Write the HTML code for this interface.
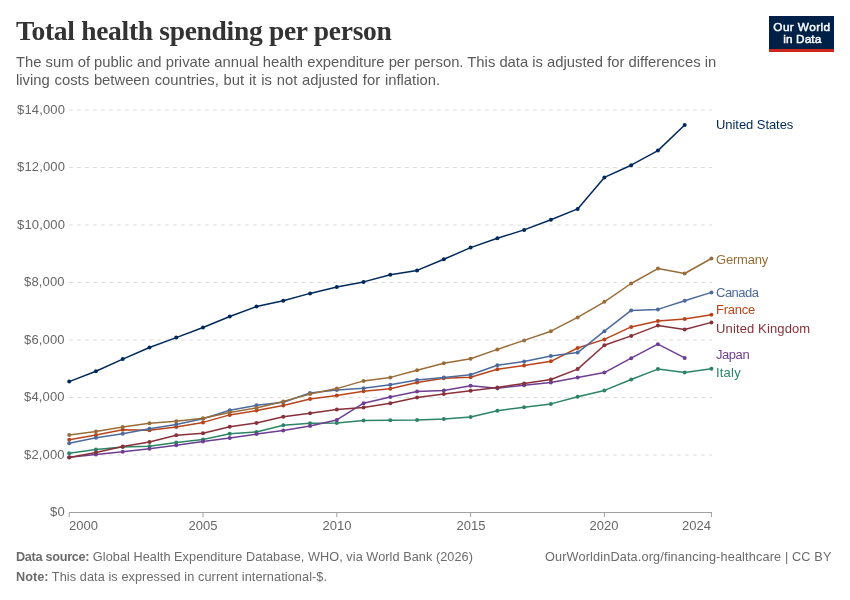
<!DOCTYPE html>
<html><head><meta charset="utf-8"><style>
html,body{margin:0;padding:0;background:#fff;}
body{width:850px;height:600px;position:relative;overflow:hidden;font-family:"Liberation Sans",sans-serif;}
.title{position:absolute;left:16px;top:15px;font-family:"Liberation Serif",serif;font-weight:bold;font-size:27.5px;color:#333;white-space:nowrap;letter-spacing:-0.3px;}
.sub{position:absolute;left:16px;top:52.5px;font-size:14.8px;line-height:18px;color:#5a5a5a;white-space:nowrap;}
.logo{position:absolute;left:769px;top:16px;width:65px;height:36px;background:#002147;}
.logo .bar{position:absolute;left:0;bottom:0;width:65px;height:3px;background:#ce261e;}
.logo .t{position:absolute;left:0;width:65px;text-align:center;color:#fff;font-weight:normal;-webkit-text-stroke:0.45px #fff;font-size:11.8px;line-height:12px;letter-spacing:-0.1px;}
.yl{position:absolute;right:785px;letter-spacing:0.15px;font-size:13px;line-height:15px;color:#666;white-space:nowrap;}
.xl{position:absolute;top:518px;font-size:13px;line-height:15px;color:#666;white-space:nowrap;}
.sl{position:absolute;left:716px;font-size:13px;line-height:15px;white-space:nowrap;}
.foot{position:absolute;left:16px;font-size:12.7px;line-height:15px;color:#6b6b6b;white-space:nowrap;}
.foot b{color:#6b6b6b;}
.footr{position:absolute;right:18.2px;top:550px;font-size:12.7px;letter-spacing:0.15px;line-height:15px;color:#6b6b6b;white-space:nowrap;}
svg{position:absolute;left:0;top:0;}
.yl,.xl,.sl,.foot,.footr,.title,.sub,.logo{will-change:transform;}
</style></head><body>
<div class="title">Total health spending per person</div>
<div class="sub">The sum of public and private annual health expenditure per person. This data is adjusted for differences in<br><span style="word-spacing:0.7px">living costs between countries, but it is not adjusted for inflation.</span></div>
<div class="logo"><div class="t" style="top:5px;left:0.4px;letter-spacing:0.4px">Our World</div><div class="t" style="top:16.6px;left:0.8px;letter-spacing:0.1px">in Data</div><div class="bar"></div></div>
<svg width="850" height="600" viewBox="0 0 850 600">
<line x1="69" y1="455.00" x2="712" y2="455.00" stroke="#ddd" stroke-width="1" stroke-dasharray="4,4"/>
<line x1="69" y1="397.50" x2="712" y2="397.50" stroke="#ddd" stroke-width="1" stroke-dasharray="4,4"/>
<line x1="69" y1="340.00" x2="712" y2="340.00" stroke="#ddd" stroke-width="1" stroke-dasharray="4,4"/>
<line x1="69" y1="282.50" x2="712" y2="282.50" stroke="#ddd" stroke-width="1" stroke-dasharray="4,4"/>
<line x1="69" y1="225.00" x2="712" y2="225.00" stroke="#ddd" stroke-width="1" stroke-dasharray="4,4"/>
<line x1="69" y1="167.50" x2="712" y2="167.50" stroke="#ddd" stroke-width="1" stroke-dasharray="4,4"/>
<line x1="69" y1="110.00" x2="712" y2="110.00" stroke="#ddd" stroke-width="1" stroke-dasharray="4,4"/>
<line x1="69" y1="512.5" x2="712" y2="512.5" stroke="#a1a1a1" stroke-width="1"/>
<line x1="69.20" y1="512.5" x2="69.20" y2="517.0" stroke="#a1a1a1" stroke-width="1"/>
<line x1="203.00" y1="512.5" x2="203.00" y2="517.0" stroke="#a1a1a1" stroke-width="1"/>
<line x1="336.80" y1="512.5" x2="336.80" y2="517.0" stroke="#a1a1a1" stroke-width="1"/>
<line x1="470.60" y1="512.5" x2="470.60" y2="517.0" stroke="#a1a1a1" stroke-width="1"/>
<line x1="604.40" y1="512.5" x2="604.40" y2="517.0" stroke="#a1a1a1" stroke-width="1"/>
<line x1="711.44" y1="512.5" x2="711.44" y2="517.0" stroke="#a1a1a1" stroke-width="1"/>
<polyline points="69.20,453.20 95.96,449.50 122.72,447.10 149.48,446.20 176.24,442.60 203.00,439.60 229.76,433.70 256.52,432.00 283.28,425.30 310.04,423.20 336.80,423.00 363.56,420.60 390.32,420.30 417.08,420.10 443.84,418.90 470.60,417.10 497.36,410.70 524.12,407.30 550.88,403.90 577.64,396.80 604.40,390.40 631.16,379.50 657.92,369.10 684.68,372.40 711.44,368.80" fill="none" stroke="#2C8465" stroke-width="1.5" stroke-linejoin="round"/>
<circle cx="69.20" cy="453.20" r="2" fill="#2C8465"/>
<circle cx="95.96" cy="449.50" r="2" fill="#2C8465"/>
<circle cx="122.72" cy="447.10" r="2" fill="#2C8465"/>
<circle cx="149.48" cy="446.20" r="2" fill="#2C8465"/>
<circle cx="176.24" cy="442.60" r="2" fill="#2C8465"/>
<circle cx="203.00" cy="439.60" r="2" fill="#2C8465"/>
<circle cx="229.76" cy="433.70" r="2" fill="#2C8465"/>
<circle cx="256.52" cy="432.00" r="2" fill="#2C8465"/>
<circle cx="283.28" cy="425.30" r="2" fill="#2C8465"/>
<circle cx="310.04" cy="423.20" r="2" fill="#2C8465"/>
<circle cx="336.80" cy="423.00" r="2" fill="#2C8465"/>
<circle cx="363.56" cy="420.60" r="2" fill="#2C8465"/>
<circle cx="390.32" cy="420.30" r="2" fill="#2C8465"/>
<circle cx="417.08" cy="420.10" r="2" fill="#2C8465"/>
<circle cx="443.84" cy="418.90" r="2" fill="#2C8465"/>
<circle cx="470.60" cy="417.10" r="2" fill="#2C8465"/>
<circle cx="497.36" cy="410.70" r="2" fill="#2C8465"/>
<circle cx="524.12" cy="407.30" r="2" fill="#2C8465"/>
<circle cx="550.88" cy="403.90" r="2" fill="#2C8465"/>
<circle cx="577.64" cy="396.80" r="2" fill="#2C8465"/>
<circle cx="604.40" cy="390.40" r="2" fill="#2C8465"/>
<circle cx="631.16" cy="379.50" r="2" fill="#2C8465"/>
<circle cx="657.92" cy="369.10" r="2" fill="#2C8465"/>
<circle cx="684.68" cy="372.40" r="2" fill="#2C8465"/>
<circle cx="711.44" cy="368.80" r="2" fill="#2C8465"/>
<polyline points="69.20,457.20 95.96,454.40 122.72,451.80 149.48,448.80 176.24,445.30 203.00,441.40 229.76,438.10 256.52,434.10 283.28,430.40 310.04,426.10 336.80,419.90 363.56,403.20 390.32,397.10 417.08,391.40 443.84,390.40 470.60,385.70 497.36,388.20 524.12,385.30 550.88,382.40 577.64,377.60 604.40,372.60 631.16,358.20 657.92,344.20 684.68,357.90" fill="none" stroke="#6D3E91" stroke-width="1.5" stroke-linejoin="round"/>
<circle cx="69.20" cy="457.20" r="2" fill="#6D3E91"/>
<circle cx="95.96" cy="454.40" r="2" fill="#6D3E91"/>
<circle cx="122.72" cy="451.80" r="2" fill="#6D3E91"/>
<circle cx="149.48" cy="448.80" r="2" fill="#6D3E91"/>
<circle cx="176.24" cy="445.30" r="2" fill="#6D3E91"/>
<circle cx="203.00" cy="441.40" r="2" fill="#6D3E91"/>
<circle cx="229.76" cy="438.10" r="2" fill="#6D3E91"/>
<circle cx="256.52" cy="434.10" r="2" fill="#6D3E91"/>
<circle cx="283.28" cy="430.40" r="2" fill="#6D3E91"/>
<circle cx="310.04" cy="426.10" r="2" fill="#6D3E91"/>
<circle cx="336.80" cy="419.90" r="2" fill="#6D3E91"/>
<circle cx="363.56" cy="403.20" r="2" fill="#6D3E91"/>
<circle cx="390.32" cy="397.10" r="2" fill="#6D3E91"/>
<circle cx="417.08" cy="391.40" r="2" fill="#6D3E91"/>
<circle cx="443.84" cy="390.40" r="2" fill="#6D3E91"/>
<circle cx="470.60" cy="385.70" r="2" fill="#6D3E91"/>
<circle cx="497.36" cy="388.20" r="2" fill="#6D3E91"/>
<circle cx="524.12" cy="385.30" r="2" fill="#6D3E91"/>
<circle cx="550.88" cy="382.40" r="2" fill="#6D3E91"/>
<circle cx="577.64" cy="377.60" r="2" fill="#6D3E91"/>
<circle cx="604.40" cy="372.60" r="2" fill="#6D3E91"/>
<circle cx="631.16" cy="358.20" r="2" fill="#6D3E91"/>
<circle cx="657.92" cy="344.20" r="2" fill="#6D3E91"/>
<circle cx="684.68" cy="357.90" r="2" fill="#6D3E91"/>
<polyline points="69.20,457.60 95.96,452.60 122.72,446.40 149.48,441.90 176.24,435.30 203.00,433.30 229.76,426.80 256.52,422.90 283.28,416.80 310.04,413.20 336.80,409.60 363.56,407.50 390.32,403.20 417.08,397.40 443.84,393.90 470.60,390.80 497.36,387.40 524.12,383.50 550.88,379.50 577.64,369.10 604.40,345.30 631.16,335.90 657.92,325.60 684.68,329.50 711.44,322.40" fill="none" stroke="#883039" stroke-width="1.5" stroke-linejoin="round"/>
<circle cx="69.20" cy="457.60" r="2" fill="#883039"/>
<circle cx="95.96" cy="452.60" r="2" fill="#883039"/>
<circle cx="122.72" cy="446.40" r="2" fill="#883039"/>
<circle cx="149.48" cy="441.90" r="2" fill="#883039"/>
<circle cx="176.24" cy="435.30" r="2" fill="#883039"/>
<circle cx="203.00" cy="433.30" r="2" fill="#883039"/>
<circle cx="229.76" cy="426.80" r="2" fill="#883039"/>
<circle cx="256.52" cy="422.90" r="2" fill="#883039"/>
<circle cx="283.28" cy="416.80" r="2" fill="#883039"/>
<circle cx="310.04" cy="413.20" r="2" fill="#883039"/>
<circle cx="336.80" cy="409.60" r="2" fill="#883039"/>
<circle cx="363.56" cy="407.50" r="2" fill="#883039"/>
<circle cx="390.32" cy="403.20" r="2" fill="#883039"/>
<circle cx="417.08" cy="397.40" r="2" fill="#883039"/>
<circle cx="443.84" cy="393.90" r="2" fill="#883039"/>
<circle cx="470.60" cy="390.80" r="2" fill="#883039"/>
<circle cx="497.36" cy="387.40" r="2" fill="#883039"/>
<circle cx="524.12" cy="383.50" r="2" fill="#883039"/>
<circle cx="550.88" cy="379.50" r="2" fill="#883039"/>
<circle cx="577.64" cy="369.10" r="2" fill="#883039"/>
<circle cx="604.40" cy="345.30" r="2" fill="#883039"/>
<circle cx="631.16" cy="335.90" r="2" fill="#883039"/>
<circle cx="657.92" cy="325.60" r="2" fill="#883039"/>
<circle cx="684.68" cy="329.50" r="2" fill="#883039"/>
<circle cx="711.44" cy="322.40" r="2" fill="#883039"/>
<polyline points="69.20,439.70 95.96,435.00 122.72,429.70 149.48,430.20 176.24,427.10 203.00,422.40 229.76,414.90 256.52,410.60 283.28,405.50 310.04,399.10 336.80,395.50 363.56,391.20 390.32,388.70 417.08,382.40 443.84,378.20 470.60,377.30 497.36,369.20 524.12,365.50 550.88,361.30 577.64,348.00 604.40,339.40 631.16,326.90 657.92,321.10 684.68,319.10 711.44,314.70" fill="none" stroke="#B8441C" stroke-width="1.5" stroke-linejoin="round"/>
<circle cx="69.20" cy="439.70" r="2" fill="#B8441C"/>
<circle cx="95.96" cy="435.00" r="2" fill="#B8441C"/>
<circle cx="122.72" cy="429.70" r="2" fill="#B8441C"/>
<circle cx="149.48" cy="430.20" r="2" fill="#B8441C"/>
<circle cx="176.24" cy="427.10" r="2" fill="#B8441C"/>
<circle cx="203.00" cy="422.40" r="2" fill="#B8441C"/>
<circle cx="229.76" cy="414.90" r="2" fill="#B8441C"/>
<circle cx="256.52" cy="410.60" r="2" fill="#B8441C"/>
<circle cx="283.28" cy="405.50" r="2" fill="#B8441C"/>
<circle cx="310.04" cy="399.10" r="2" fill="#B8441C"/>
<circle cx="336.80" cy="395.50" r="2" fill="#B8441C"/>
<circle cx="363.56" cy="391.20" r="2" fill="#B8441C"/>
<circle cx="390.32" cy="388.70" r="2" fill="#B8441C"/>
<circle cx="417.08" cy="382.40" r="2" fill="#B8441C"/>
<circle cx="443.84" cy="378.20" r="2" fill="#B8441C"/>
<circle cx="470.60" cy="377.30" r="2" fill="#B8441C"/>
<circle cx="497.36" cy="369.20" r="2" fill="#B8441C"/>
<circle cx="524.12" cy="365.50" r="2" fill="#B8441C"/>
<circle cx="550.88" cy="361.30" r="2" fill="#B8441C"/>
<circle cx="577.64" cy="348.00" r="2" fill="#B8441C"/>
<circle cx="604.40" cy="339.40" r="2" fill="#B8441C"/>
<circle cx="631.16" cy="326.90" r="2" fill="#B8441C"/>
<circle cx="657.92" cy="321.10" r="2" fill="#B8441C"/>
<circle cx="684.68" cy="319.10" r="2" fill="#B8441C"/>
<circle cx="711.44" cy="314.70" r="2" fill="#B8441C"/>
<polyline points="69.20,443.20 95.96,437.70 122.72,433.80 149.48,428.70 176.24,424.50 203.00,418.80 229.76,410.30 256.52,405.30 283.28,402.20 310.04,393.00 336.80,389.90 363.56,388.20 390.32,384.70 417.08,380.00 443.84,377.60 470.60,374.80 497.36,365.30 524.12,361.40 550.88,356.10 577.64,352.60 604.40,331.20 631.16,310.40 657.92,309.40 684.68,300.70 711.44,292.40" fill="none" stroke="#4C6A9C" stroke-width="1.5" stroke-linejoin="round"/>
<circle cx="69.20" cy="443.20" r="2" fill="#4C6A9C"/>
<circle cx="95.96" cy="437.70" r="2" fill="#4C6A9C"/>
<circle cx="122.72" cy="433.80" r="2" fill="#4C6A9C"/>
<circle cx="149.48" cy="428.70" r="2" fill="#4C6A9C"/>
<circle cx="176.24" cy="424.50" r="2" fill="#4C6A9C"/>
<circle cx="203.00" cy="418.80" r="2" fill="#4C6A9C"/>
<circle cx="229.76" cy="410.30" r="2" fill="#4C6A9C"/>
<circle cx="256.52" cy="405.30" r="2" fill="#4C6A9C"/>
<circle cx="283.28" cy="402.20" r="2" fill="#4C6A9C"/>
<circle cx="310.04" cy="393.00" r="2" fill="#4C6A9C"/>
<circle cx="336.80" cy="389.90" r="2" fill="#4C6A9C"/>
<circle cx="363.56" cy="388.20" r="2" fill="#4C6A9C"/>
<circle cx="390.32" cy="384.70" r="2" fill="#4C6A9C"/>
<circle cx="417.08" cy="380.00" r="2" fill="#4C6A9C"/>
<circle cx="443.84" cy="377.60" r="2" fill="#4C6A9C"/>
<circle cx="470.60" cy="374.80" r="2" fill="#4C6A9C"/>
<circle cx="497.36" cy="365.30" r="2" fill="#4C6A9C"/>
<circle cx="524.12" cy="361.40" r="2" fill="#4C6A9C"/>
<circle cx="550.88" cy="356.10" r="2" fill="#4C6A9C"/>
<circle cx="577.64" cy="352.60" r="2" fill="#4C6A9C"/>
<circle cx="604.40" cy="331.20" r="2" fill="#4C6A9C"/>
<circle cx="631.16" cy="310.40" r="2" fill="#4C6A9C"/>
<circle cx="657.92" cy="309.40" r="2" fill="#4C6A9C"/>
<circle cx="684.68" cy="300.70" r="2" fill="#4C6A9C"/>
<circle cx="711.44" cy="292.40" r="2" fill="#4C6A9C"/>
<polyline points="69.20,435.00 95.96,431.50 122.72,427.00 149.48,423.20 176.24,421.20 203.00,418.20 229.76,412.50 256.52,407.90 283.28,401.40 310.04,394.10 336.80,388.60 363.56,380.90 390.32,377.40 417.08,370.20 443.84,363.30 470.60,358.80 497.36,349.40 524.12,340.40 550.88,331.20 577.64,317.40 604.40,301.80 631.16,283.50 657.92,268.60 684.68,273.50 711.44,258.50" fill="none" stroke="#996D39" stroke-width="1.5" stroke-linejoin="round"/>
<circle cx="69.20" cy="435.00" r="2" fill="#996D39"/>
<circle cx="95.96" cy="431.50" r="2" fill="#996D39"/>
<circle cx="122.72" cy="427.00" r="2" fill="#996D39"/>
<circle cx="149.48" cy="423.20" r="2" fill="#996D39"/>
<circle cx="176.24" cy="421.20" r="2" fill="#996D39"/>
<circle cx="203.00" cy="418.20" r="2" fill="#996D39"/>
<circle cx="229.76" cy="412.50" r="2" fill="#996D39"/>
<circle cx="256.52" cy="407.90" r="2" fill="#996D39"/>
<circle cx="283.28" cy="401.40" r="2" fill="#996D39"/>
<circle cx="310.04" cy="394.10" r="2" fill="#996D39"/>
<circle cx="336.80" cy="388.60" r="2" fill="#996D39"/>
<circle cx="363.56" cy="380.90" r="2" fill="#996D39"/>
<circle cx="390.32" cy="377.40" r="2" fill="#996D39"/>
<circle cx="417.08" cy="370.20" r="2" fill="#996D39"/>
<circle cx="443.84" cy="363.30" r="2" fill="#996D39"/>
<circle cx="470.60" cy="358.80" r="2" fill="#996D39"/>
<circle cx="497.36" cy="349.40" r="2" fill="#996D39"/>
<circle cx="524.12" cy="340.40" r="2" fill="#996D39"/>
<circle cx="550.88" cy="331.20" r="2" fill="#996D39"/>
<circle cx="577.64" cy="317.40" r="2" fill="#996D39"/>
<circle cx="604.40" cy="301.80" r="2" fill="#996D39"/>
<circle cx="631.16" cy="283.50" r="2" fill="#996D39"/>
<circle cx="657.92" cy="268.60" r="2" fill="#996D39"/>
<circle cx="684.68" cy="273.50" r="2" fill="#996D39"/>
<circle cx="711.44" cy="258.50" r="2" fill="#996D39"/>
<polyline points="69.20,381.60 95.96,371.30 122.72,359.10 149.48,347.50 176.24,337.60 203.00,327.50 229.76,316.50 256.52,306.60 283.28,300.70 310.04,293.40 336.80,287.10 363.56,281.90 390.32,274.80 417.08,270.40 443.84,259.30 470.60,247.60 497.36,238.30 524.12,229.90 550.88,219.70 577.64,208.90 604.40,177.40 631.16,165.20 657.92,150.60 684.68,125.00" fill="none" stroke="#00295B" stroke-width="1.5" stroke-linejoin="round"/>
<circle cx="69.20" cy="381.60" r="2" fill="#00295B"/>
<circle cx="95.96" cy="371.30" r="2" fill="#00295B"/>
<circle cx="122.72" cy="359.10" r="2" fill="#00295B"/>
<circle cx="149.48" cy="347.50" r="2" fill="#00295B"/>
<circle cx="176.24" cy="337.60" r="2" fill="#00295B"/>
<circle cx="203.00" cy="327.50" r="2" fill="#00295B"/>
<circle cx="229.76" cy="316.50" r="2" fill="#00295B"/>
<circle cx="256.52" cy="306.60" r="2" fill="#00295B"/>
<circle cx="283.28" cy="300.70" r="2" fill="#00295B"/>
<circle cx="310.04" cy="293.40" r="2" fill="#00295B"/>
<circle cx="336.80" cy="287.10" r="2" fill="#00295B"/>
<circle cx="363.56" cy="281.90" r="2" fill="#00295B"/>
<circle cx="390.32" cy="274.80" r="2" fill="#00295B"/>
<circle cx="417.08" cy="270.40" r="2" fill="#00295B"/>
<circle cx="443.84" cy="259.30" r="2" fill="#00295B"/>
<circle cx="470.60" cy="247.60" r="2" fill="#00295B"/>
<circle cx="497.36" cy="238.30" r="2" fill="#00295B"/>
<circle cx="524.12" cy="229.90" r="2" fill="#00295B"/>
<circle cx="550.88" cy="219.70" r="2" fill="#00295B"/>
<circle cx="577.64" cy="208.90" r="2" fill="#00295B"/>
<circle cx="604.40" cy="177.40" r="2" fill="#00295B"/>
<circle cx="631.16" cy="165.20" r="2" fill="#00295B"/>
<circle cx="657.92" cy="150.60" r="2" fill="#00295B"/>
<circle cx="684.68" cy="125.00" r="2" fill="#00295B"/>
</svg>
<div class="yl" style="top:504.0px">$0</div>
<div class="yl" style="top:446.5px">$2,000</div>
<div class="yl" style="top:389.0px">$4,000</div>
<div class="yl" style="top:331.5px">$6,000</div>
<div class="yl" style="top:274.0px">$8,000</div>
<div class="yl" style="top:216.5px">$10,000</div>
<div class="yl" style="top:159.0px">$12,000</div>
<div class="yl" style="top:101.5px">$14,000</div>
<div class="xl" style="left:68.7px">2000</div>
<div class="xl" style="left:183.0px;width:40px;text-align:center">2005</div>
<div class="xl" style="left:316.8px;width:40px;text-align:center">2010</div>
<div class="xl" style="left:450.6px;width:40px;text-align:center">2015</div>
<div class="xl" style="left:584.4px;width:40px;text-align:center">2020</div>
<div class="xl" style="left:682.4px;width:29px;text-align:right">2024</div>
<div class="sl" style="top:117.4px;color:#00295B;letter-spacing:-0.06px">United States</div>
<div class="sl" style="top:251.5px;color:#996D39;letter-spacing:-0.2px">Germany</div>
<div class="sl" style="top:284.6px;color:#4C6A9C;letter-spacing:-0.5px">Canada</div>
<div class="sl" style="top:302.4px;color:#B8441C;letter-spacing:-0.24px">France</div>
<div class="sl" style="top:320.6px;color:#883039;letter-spacing:0.13px">United Kingdom</div>
<div class="sl" style="top:346.9px;color:#6D3E91;letter-spacing:-0.45px">Japan</div>
<div class="sl" style="top:365.4px;color:#2C8465;letter-spacing:0.2px">Italy</div>

<div class="foot" style="top:549.7px"><b style="letter-spacing:-0.3px">Data source:</b><span style="letter-spacing:0.06px"> Global Health Expenditure Database, WHO, via World Bank (2026)</span></div>
<div class="foot" style="top:569.7px"><b>Note:</b><span style="letter-spacing:0.09px"> This data is expressed in current international-$.</span></div>
<div class="footr">OurWorldinData.org/financing-healthcare | CC BY</div>
</body></html>
